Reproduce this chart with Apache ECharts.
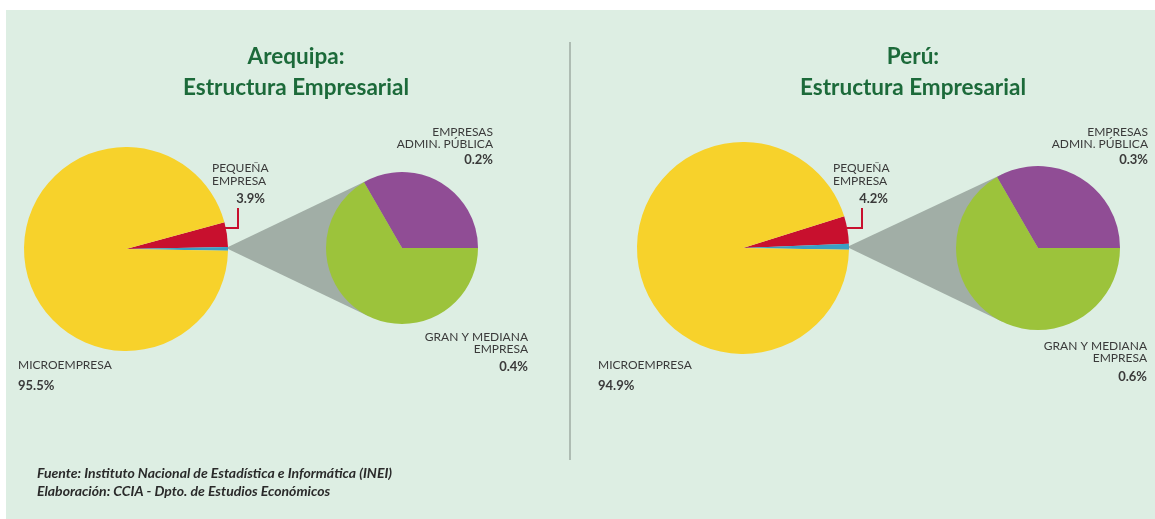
<!DOCTYPE html>
<html>
<head>
<meta charset="utf-8">
<script src="https://cdn.jsdelivr.net/npm/echarts@6/dist/echarts.min.js"></script>
<style>
html,body{margin:0;padding:0;background:#fff;}
#chart{width:1155px;height:519px;}
</style>
</head>
<body>
<div id="chart"></div>
<script>
// ---- data ----
const regions = ['Arequipa:', 'Perú:'];
const subtitle = 'Estructura Empresarial';
const categories = ['MICROEMPRESA', 'PEQUEÑA\nEMPRESA', 'GRAN Y MEDIANA\nEMPRESA', 'EMPRESAS\nADMIN. PÚBLICA'];
const arequipaValues = [95.5, 3.9, 0.4, 0.2];
const peruValues = [94.9, 4.2, 0.6, 0.3];
const sourceLines = ['Fuente: Instituto Nacional de Estadística e Informática (INEI)', 'Elaboración: CCIA - Dpto. de Estudios Económicos'];

// ---- styles / layout ----
const C = {
  bg: '#ddeee3', title: '#1c6a3a', text: '#3a3a3a',
  yellow: '#f7d22b', red: '#c8102e', blue: '#3a9fc4',
  purple: '#904d95', green: '#9cc33b', gray: '#a1aea6', divider: '#aebcb3'
};
const FONT = 'Lato, "Noto Sans", sans-serif';
const panels = [
  { values: arequipaValues, titleX: 296, main: { c: [126, 249], r: 102 }, sub: { c: [402, 248], r: 76 },
    pq: { tx: 212, vx: 265, lead: [[238, 208], [238, 228], [225, 228]] },
    adm: { x: 493, y: [132, 144, 160] }, gran: { x: 528, y: [337, 349, 367] }, micro: { x: 18 } },
  { values: peruValues, titleX: 913, main: { c: [743, 248], r: 106 }, sub: { c: [1038, 248], r: 82 },
    pq: { tx: 833, vx: 888, lead: [[862, 208], [862, 228], [847, 228]] },
    adm: { x: 1148, y: [132, 144, 160] }, gran: { x: 1147, y: [346, 358, 377] }, micro: { x: 598 } }
];

const fmt = v => v.toFixed(1) + '%';
const series = [];
const graphic = [
  { type: 'rect', shape: { x: 6, y: 10, width: 1149, height: 509 }, style: { fill: C.bg }, z: -10, silent: true },
  { type: 'line', shape: { x1: 570, y1: 42, x2: 570, y2: 460 }, style: { stroke: C.divider, lineWidth: 2 }, z: -5 }
];

function txt(x, y, text, align, size, weight, fill) {
  return { type: 'text', x: x, y: y, silent: true, z: 5,
    style: { text: text, fill: fill || C.text, align: align, verticalAlign: 'middle',
      font: (weight || 'normal') + ' ' + size + 'px ' + FONT } };
}

panels.forEach((p, i) => {
  const v = p.values;
  const other = +(v[2] + v[3]).toFixed(1);
  const pct = v[1] / 100 * 360 + other / 100 * 360;
  // main pie
  series.push({
    type: 'pie', silent: true, center: p.main.c, radius: p.main.r,
    startAngle: pct - 1, clockwise: true, label: { show: false }, labelLine: { show: false },
    itemStyle: { borderWidth: 0 },
    data: [
      { name: categories[1], value: v[1], itemStyle: { color: C.red } },
      { name: 'otros', value: other, itemStyle: { color: C.blue } },
      { name: categories[0], value: v[0], itemStyle: { color: C.yellow } }
    ]
  });
  // secondary pie
  series.push({
    type: 'pie', silent: true, center: p.sub.c, radius: p.sub.r,
    startAngle: 120, clockwise: true, label: { show: false }, labelLine: { show: false },
    itemStyle: { borderWidth: 0 },
    data: [
      { name: categories[3], value: v[3], itemStyle: { color: C.purple } },
      { name: categories[2], value: v[2], itemStyle: { color: C.green } }
    ]
  });
  // connector
  const P = [p.main.c[0] + p.main.r - 2, p.main.c[1] - 1];
  const dx = p.sub.c[0] - P[0], dy = p.sub.c[1] - P[1];
  const d = Math.hypot(dx, dy), a = Math.asin(p.sub.r / d), L = Math.sqrt(d * d - p.sub.r * p.sub.r);
  const base = Math.atan2(dy, dx);
  graphic.push({ type: 'polygon', z: -1, silent: true,
    shape: { points: [P,
      [P[0] + L * Math.cos(base - a), P[1] + L * Math.sin(base - a)],
      [p.sub.c[0], p.sub.c[1]],
      [P[0] + L * Math.cos(base + a), P[1] + L * Math.sin(base + a)]] },
    style: { fill: C.gray } });
  // titles
  graphic.push(txt(p.titleX, 57, regions[i], 'center', 22.5, 'bold', C.title));
  graphic.push(txt(p.titleX, 88, subtitle, 'center', 22.5, 'bold', C.title));
  // pequeña
  const pqLines = categories[1].split('\n');
  graphic.push(txt(p.pq.tx, 168, pqLines[0], 'left', 12));
  graphic.push(txt(p.pq.tx, 181, pqLines[1], 'left', 12));
  graphic.push(txt(p.pq.vx, 199, fmt(v[1]), 'right', 13, 'bold'));
  graphic.push({ type: 'polyline', z: 5, silent: true, shape: { points: p.pq.lead }, style: { stroke: C.red, lineWidth: 2, fill: null } });
  // admin
  const admLines = categories[3].split('\n');
  graphic.push(txt(p.adm.x, p.adm.y[0], admLines[0], 'right', 12));
  graphic.push(txt(p.adm.x, p.adm.y[1], admLines[1], 'right', 12));
  graphic.push(txt(p.adm.x, p.adm.y[2], fmt(v[3]), 'right', 13, 'bold'));
  // gran
  const grLines = categories[2].split('\n');
  graphic.push(txt(p.gran.x, p.gran.y[0], grLines[0], 'right', 12));
  graphic.push(txt(p.gran.x, p.gran.y[1], grLines[1], 'right', 12));
  graphic.push(txt(p.gran.x, p.gran.y[2], fmt(v[2]), 'right', 13, 'bold'));
  // micro
  graphic.push(txt(p.micro.x, 365, categories[0], 'left', 12));
  graphic.push(txt(p.micro.x, 386, fmt(v[0]), 'left', 13, 'bold'));
});

graphic.push(txt(37, 473, sourceLines[0], 'left', 14, 'italic bold', '#2a2a2a'));
graphic.push(txt(37, 491, sourceLines[1], 'left', 14, 'italic bold', '#2a2a2a'));

const chart = echarts.init(document.getElementById('chart'), null, { renderer: 'canvas' });
chart.setOption({ backgroundColor: '#ffffff', animation: false, series: series, graphic: graphic });
</script>
</body>
</html>
